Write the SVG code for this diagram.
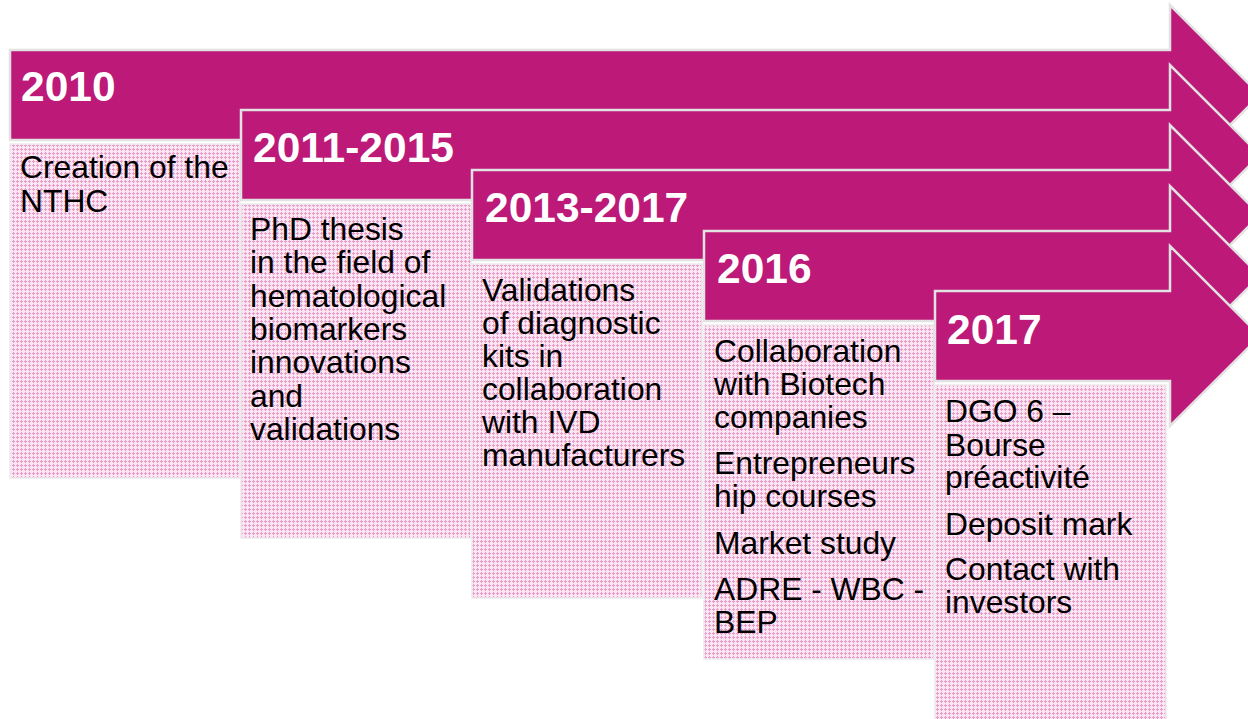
<svg xmlns="http://www.w3.org/2000/svg" width="1248" height="719" viewBox="0 0 1248 719">
<defs>
<pattern id="dots" width="4" height="4" patternUnits="userSpaceOnUse">
<rect width="4" height="4" fill="#fbe6f2"/>
<path d="M1 0h1v3h-1z M0 1h3v1h-3z" fill="#e89ccb"/>
</pattern>
<style>
.arrow{fill:#bc1978;stroke:#e2e2e2;stroke-width:2.5;stroke-linejoin:miter}
.box{fill:url(#dots);stroke:#ececec;stroke-width:1.5}
.year{font-family:"Liberation Sans",Arial,sans-serif;font-weight:bold;font-size:42.5px;fill:#ffffff}
.body{font-family:"Liberation Sans",Arial,sans-serif;font-size:31.8px;fill:#000000}
</style>
</defs>
<rect width="1248" height="719" fill="#ffffff"/>
<g id="connectors"/>
<g id="node-2010">
<path class="arrow" d="M10 50H1170V5L1260 95L1170 185V140H10Z"/>
<rect class="box" x="10" y="144" width="230" height="334"/>
<text class="year" x="21" y="101">2010</text>
<text class="body" x="20" y="178"><tspan x="20">Creation of the</tspan><tspan x="20" dy="34">NTHC</tspan></text>
</g>
<g id="node-2011-2015">
<path class="arrow" d="M241 110H1170V65L1260 155L1170 245V200H241Z"/>
<rect class="box" x="241" y="204" width="230" height="334"/>
<text class="year" x="253" y="162">2011-2015</text>
<text class="body" x="250" y="240"><tspan x="250">PhD thesis</tspan><tspan x="250" dy="33.3">in the field of</tspan><tspan x="250" dy="33.3">hematological</tspan><tspan x="250" dy="33.3">biomarkers</tspan><tspan x="250" dy="33.3">innovations</tspan><tspan x="250" dy="33.3">and</tspan><tspan x="250" dy="33.3">validations</tspan></text>
</g>
<g id="node-2013-2017">
<path class="arrow" d="M472 170H1170V125L1260 215L1170 305V260H472Z"/>
<rect class="box" x="472" y="264" width="230" height="334"/>
<text class="year" x="485" y="222">2013-2017</text>
<text class="body" x="482" y="301"><tspan x="482">Validations</tspan><tspan x="482" dy="33">of diagnostic</tspan><tspan x="482" dy="33">kits in</tspan><tspan x="482" dy="33">collaboration</tspan><tspan x="482" dy="33">with IVD</tspan><tspan x="482" dy="33">manufacturers</tspan></text>
</g>
<g id="node-2016">
<path class="arrow" d="M704 231H1170V186L1260 276L1170 366V321H704Z"/>
<rect class="box" x="704" y="325" width="230" height="334"/>
<text class="year" x="717" y="283">2016</text>
<text class="body" x="714" y="362"><tspan x="714">Collaboration</tspan><tspan x="714" dy="33">with Biotech</tspan><tspan x="714" dy="32.5">companies</tspan><tspan x="714" dy="46">Entrepreneurs</tspan><tspan x="714" dy="33">hip courses</tspan><tspan x="714" dy="47">Market study</tspan><tspan x="714" dy="46.5">ADRE - WBC -</tspan><tspan x="714" dy="33">BEP</tspan></text>
</g>
<g id="node-2017">
<path class="arrow" d="M935 291H1170V246L1260 336L1170 426V381H935Z"/>
<rect class="box" x="935" y="385" width="231" height="336"/>
<text class="year" x="947" y="344">2017</text>
<text class="body" x="945" y="422"><tspan x="945">DGO 6 –</tspan><tspan x="945" dy="33.5">Bourse</tspan><tspan x="945" dy="32.5">préactivité</tspan><tspan x="945" dy="47">Deposit mark</tspan><tspan x="945" dy="45">Contact with</tspan><tspan x="945" dy="33">investors</tspan></text>
</g>
</svg>
